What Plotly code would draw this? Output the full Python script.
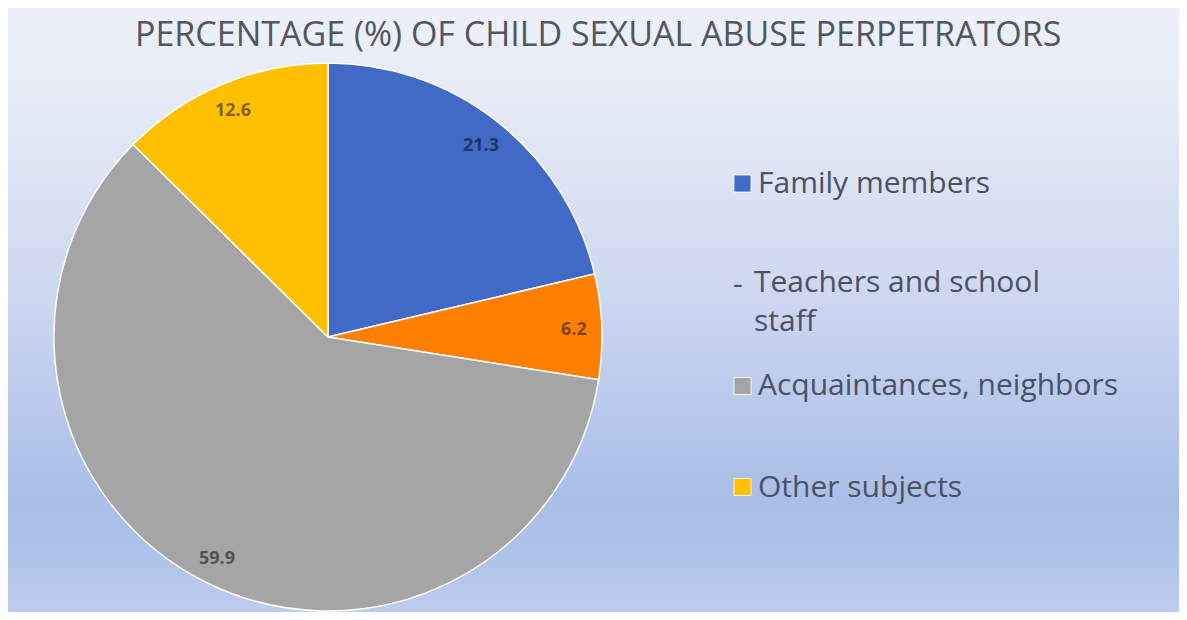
import math
import plotly.graph_objects as go

# The page adds an 8px margin, so the figure is drawn 16px smaller than the window
OFF = 8
FW, FH = 1187 - 2 * OFF, 620 - 2 * OFF

# ---------------- data ----------------
labels = ["Family members", "Teachers and school staff", "Acquaintances, neighbors", "Other subjects"]
values = [21.3, 6.2, 59.9, 12.6]
colors = ["#4169C6", "#FF7F00", "#A5A5A5", "#FFC000"]
title_text = "PERCENTAGE (%) OF CHILD SEXUAL ABUSE PERPETRATORS"

# ---------------- helpers (window pixels -> paper fractions) ----------------
def px(x):
    return (x - OFF) / FW

def py(y):
    return 1 - (y - OFF) / FH

# pie geometry (window pixels)
cx, cy, r = 328, 337, 274

fig = go.Figure()
fig.add_trace(go.Pie(
    labels=labels,
    values=values,
    sort=False,
    direction="clockwise",
    rotation=0,
    marker=dict(colors=colors, line=dict(color="#FFFFFF", width=1.5)),
    textinfo="none",
    hoverinfo="label+value",
    showlegend=False,
    domain=dict(x=[px(cx - r), px(cx + r)], y=[py(cy + r), py(cy - r)]),
))

annotations = []
# value labels near the outer end of each slice (positions computed from the values)
total = sum(values)
cum = 0.0
for v in values:
    mid = (cum + v / 2) / total * 2 * math.pi
    cum += v
    d = 0.9 * r
    lx = cx + d * math.sin(mid)
    ly = cy - d * math.cos(mid)
    annotations.append(dict(
        x=px(lx), y=py(ly), xref="paper", yref="paper",
        text=f"{v:.1f}", showarrow=False, xanchor="center", yanchor="middle",
        font=dict(family="Open Sans", size=18, color="rgba(0,0,0,0.5)", weight="bold"),
    ))

# title
annotations.append(dict(
    x=px(598), y=py(33), xref="paper", yref="paper", text=title_text,
    showarrow=False, xanchor="center", yanchor="middle",
    font=dict(family="Open Sans", size=34, color="#53575D"),
))

# custom legend
legend_text_color = "#4A5263"
leg_font = dict(family="Open Sans", size=30, color=legend_text_color)
leg_rows = [  # (label index, text centre y, square centre y or None)
    (0, 181, 183.5),
    (1, 300, None),
    (2, 383, 386),
    (3, 485, 487),
]
shapes = []
# background gradient
stops = [(0, (238, 241, 250)), (100, (230, 235, 247)), (200, (218, 225, 243)),
         (300, (204, 215, 240)), (400, (186, 202, 236)), (500, (169, 190, 231)),
         (555, (174, 195, 233)), (620, (192, 206, 239))]

def grad(y):
    for (y0, c0), (y1, c1) in zip(stops[:-1], stops[1:]):
        if y0 <= y <= y1:
            t = (y - y0) / (y1 - y0)
            return "rgb(%d,%d,%d)" % tuple(round(a + (b - a) * t) for a, b in zip(c0, c1))
    return "rgb(%d,%d,%d)" % stops[-1][1]

step = 4
for y in range(OFF, 620 - OFF, step):
    shapes.append(dict(type="rect", xref="paper", yref="paper", layer="below",
                       x0=0, x1=1, y0=py(y + step), y1=py(y),
                       fillcolor=grad(y + step / 2), line=dict(width=0)))

for idx, ty, sy in leg_rows:
    if sy is not None:
        shapes.append(dict(type="rect", xref="paper", yref="paper",
                           x0=px(734), x1=px(751), y0=py(sy + 8.5), y1=py(sy - 8.5),
                           fillcolor=colors[idx], line=dict(color="rgba(255,255,255,0.8)", width=1)))
        annotations.append(dict(x=px(756), y=py(ty), xref="paper", yref="paper",
                                text=labels[idx], showarrow=False, xanchor="left",
                                yanchor="middle", align="left", font=leg_font))
    else:
        words = labels[idx].rsplit(" ", 1)
        annotations.append(dict(x=px(731), y=py(283), xref="paper", yref="paper",
                                text="-", showarrow=False, xanchor="left",
                                yanchor="middle", font=leg_font))
        annotations.append(dict(x=px(752), y=py(ty), xref="paper", yref="paper",
                                text=words[0] + "<br>" + words[1], showarrow=False,
                                xanchor="left", yanchor="middle", align="left", font=leg_font))

fig.update_layout(
    width=FW, height=FH,
    margin=dict(l=0, r=0, t=0, b=0),
    paper_bgcolor="#DDE4F4",
    plot_bgcolor="rgba(0,0,0,0)",
    shapes=shapes,
    annotations=annotations,
)

fig.write_html("out.html")
